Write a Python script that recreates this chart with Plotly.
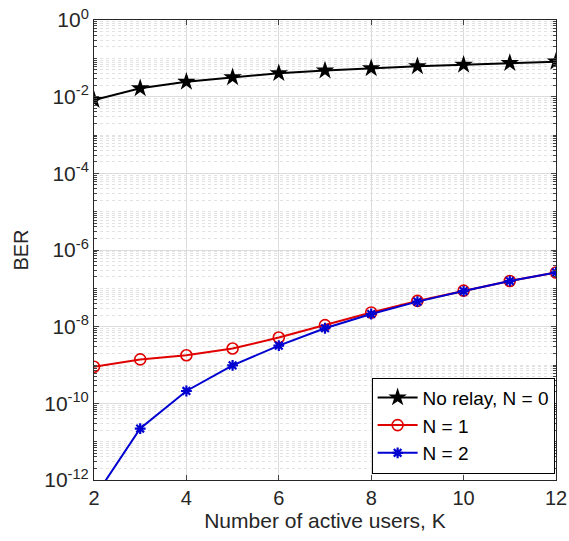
import plotly.graph_objects as go

K = [2, 3, 4, 5, 6, 7, 8, 9, 10, 11, 12]
ber_no_relay = [8.2e-3, 1.65e-2, 2.45e-2, 3.2e-2, 4.1e-2, 4.8e-2, 5.5e-2, 6.2e-2, 6.8e-2, 7.5e-2, 8.2e-2]
ber_n1 = [9.0e-10, 1.4e-9, 1.8e-9, 2.7e-9, 5.2e-9, 1.1e-8, 2.35e-8, 4.7e-8, 8.7e-8, 1.55e-7, 2.6e-7]
ber_n2 = [3.4e-13, 2.2e-11, 2.1e-10, 9.8e-10, 3.2e-9, 9.1e-9, 2.14e-8, 4.5e-8, 8.5e-8, 1.55e-7, 2.6e-7]

names = ["No relay, N = 0", "N = 1", "N = 2"]
x_ticks = [2, 4, 6, 8, 10, 12]
y_exps = [0, -2, -4, -6, -8, -10, -12]

y_tickvals = [10.0 ** e for e in y_exps]
y_ticktext = ["10<sup>%d</sup>" % e for e in y_exps]
minor_vals = [m * 10.0 ** e for e in range(-12, 0) for m in range(1, 10) if not (m == 1 and e in y_exps)]

fig = go.Figure()
fig.add_trace(go.Scatter(x=K, y=ber_no_relay, name=names[0], mode="lines+markers",
                         line=dict(color="black", width=2),
                         marker=dict(symbol="star", size=14, color="black")))
fig.add_trace(go.Scatter(x=K, y=ber_n1, name=names[1], mode="lines+markers",
                         line=dict(color="#e00000", width=2),
                         marker=dict(symbol="circle-open", size=11, color="#e00000", line=dict(width=1.6))))
fig.add_trace(go.Scatter(x=K, y=ber_n2, name=names[2], mode="lines+markers",
                         line=dict(color="#0000d0", width=2),
                         marker=dict(symbol="asterisk-open", size=9, color="#0000d0", line=dict(width=2.2, color="#0000d0"))))

font = "Liberation Sans, Arial, sans-serif"
fig.update_layout(
    width=569, height=541,
    margin=dict(l=94, r=13, t=20, b=61),
    paper_bgcolor="white", plot_bgcolor="white",
    font=dict(family=font, size=19, color="#262626"),
    showlegend=True,
    legend=dict(x=0.997, y=0.014, xanchor="right", yanchor="bottom",
                bgcolor="white", bordercolor="black", borderwidth=1,
                font=dict(size=19, color="black"), tracegroupgap=0, itemwidth=40),
)
fig.update_xaxes(range=[2, 12], tickvals=x_ticks, ticks="inside", ticklen=5, automargin=False,
                 showline=True, linecolor="#262626", linewidth=1, mirror="allticks",
                 showgrid=True, gridcolor="#dcdcdc", gridwidth=1, zeroline=False,
                 title=dict(text="Number of active users, K", font=dict(size=21), standoff=4),
                 tickfont=dict(size=20))
fig.update_yaxes(type="log", range=[-12, 0], tickmode="array", tickvals=y_tickvals, ticktext=y_ticktext,
                 ticks="inside", ticklen=5, automargin=False,
                 showline=True, linecolor="#262626", linewidth=1, mirror="allticks",
                 showgrid=True, gridcolor="#dcdcdc", gridwidth=1, zeroline=False,
                 minor=dict(tickmode="array", tickvals=minor_vals, ticks="inside", ticklen=3,
                            showgrid=True, gridcolor="#e2e2e2", griddash="dot", gridwidth=1),
                 title=dict(text="BER", font=dict(size=20), standoff=10),
                 tickfont=dict(size=21))

fig.write_html("out.html", config={"displayModeBar": False},
               post_script="document.body.style.margin='0';document.body.style.overflow='hidden';")
